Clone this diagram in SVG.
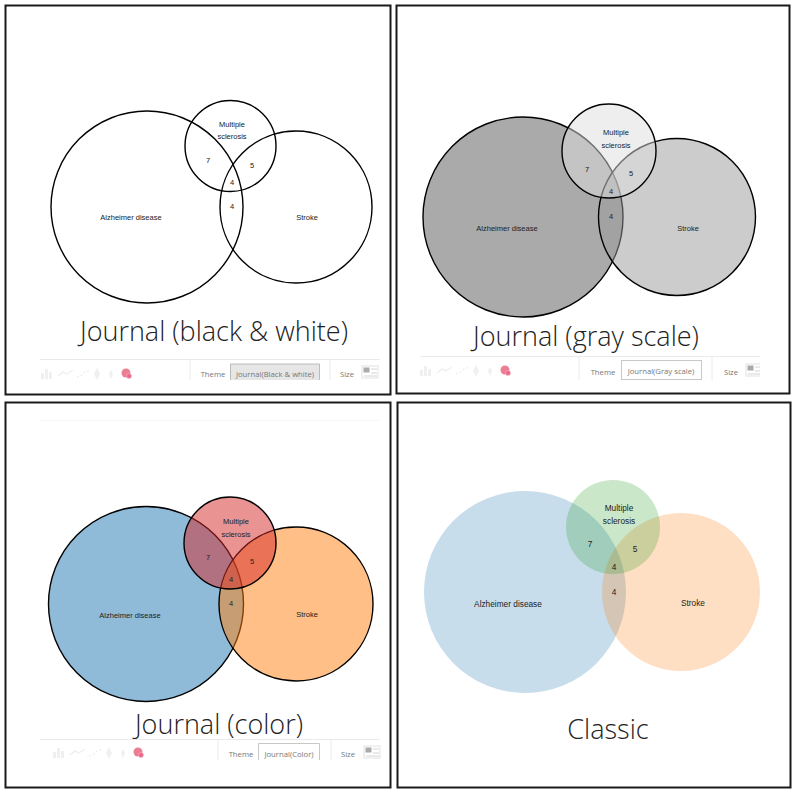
<svg xmlns="http://www.w3.org/2000/svg" width="800" height="800" viewBox="0 0 800 800">
<style>
.panel{fill:#fff;stroke:#1a1a1a;stroke-width:2}
.j{stroke:#000;stroke-width:1.4}
.none{fill:none}
.t{font-family:"Liberation Sans",Arial,sans-serif;font-size:7.500px;fill:#222;text-anchor:middle}
.t2{font-size:8.300px}
.title{font-family:"Open Sans","Noto Sans",sans-serif;font-weight:300;font-size:27px;fill:#222;text-anchor:middle}
.tb{font-family:"Open Sans","Noto Sans",sans-serif;font-size:7.700px;fill:#777;text-anchor:middle}
.rule{stroke:#eaeaea;stroke-width:1;fill:none}
.box{fill:#fff;stroke:#c8c8c8;stroke-width:1}
.ic{fill:#f0f0f0}
.ball{fill:#ec7e94}
.sz{fill:#aaa}
</style>
<defs>
<clipPath id="c4"><rect x="398" y="403" width="362" height="384"/></clipPath>
<clipPath id="c2"><rect x="398" y="350" width="362" height="40"/></clipPath>
<g id="bar-icons">
<path class="ic" d="M0 6h3v6H0zM4 2h3v10H4zM8 5h3v7H8z"/>
<path d="M17 9l5-4 4 2 6-4" fill="none" stroke="#f0f0f0" stroke-width="1.5"/>
<path d="M36 10l5-2 3-3 6-2" fill="none" stroke="#f0f0f0" stroke-width="1.500" stroke-dasharray="2 2"/>
<path class="ic" d="M56 1l3 6-3 6-3-6z"/>
<path class="ic" d="M70 3l2 4-2 5-2-5z"/>
<circle class="ball" cx="85" cy="6" r="4.500"/>
<circle cx="88" cy="9" r="2.500" fill="#e8688a" stroke="#f6b8c6" stroke-width=".6"/>
</g>
<g id="size-icon">
<rect x="0" y="0" width="16" height="12" fill="#fff" stroke="#e2e2e2"/>
<rect class="sz" x="1.500" y="1.500" width="6" height="5"/>
<path d="M9 3h6M9 7h6M2 10h13" stroke="#d4d4d4" stroke-width="1"/>
</g>
</defs>
<rect width="800" height="800" fill="#fff"/>

<g id="panel-bw">
<rect class="panel" x="5.500" y="5.500" width="385" height="389"/>
<g id="bw-circles">
<circle class="j none" cx="147" cy="207" r="96"/>
<circle class="j none" cx="230.500" cy="146" r="45.500"/>
<circle class="j none" cx="296" cy="207" r="76"/>
</g>
<text class="t" x="131" y="220">Alzheimer disease</text>
<text class="t" x="307" y="220">Stroke</text>
<text class="t" x="232" y="127">Multiple</text>
<text class="t" x="232" y="139">sclerosis</text>
<text class="t" x="208" y="163">7</text>
<text class="t" x="252" y="168">5</text>
<text class="t" x="232" y="185">4</text>
<text class="t" x="232" y="209">4</text>
<text class="title" x="214" y="341">Journal (black &amp; white)</text>
<path class="rule" d="M40 359.500H380M190 360v20M330 360v20"/>
<use href="#bar-icons" x="41" y="367"/>
<text class="tb" x="213" y="377">Theme</text>
<path d="M230.500 380V364H319.500V380z" fill="#e6e6e6"/>
<path d="M230.500 380V364H319.500V380" fill="none" stroke="#bbb"/>
<text class="tb" x="275" y="377">Journal(Black &amp; white)</text>
<text class="tb" x="347" y="377">Size</text>
<use href="#size-icon" x="362" y="366"/>
</g>

<g id="panel-gray">
<rect class="panel" x="396.500" y="5.500" width="393" height="388"/>
<g id="gray-circles">
<circle class="j" cx="523" cy="217" r="100" fill="#555" fill-opacity=".5"/>
<circle class="j" cx="677" cy="217" r="78.500" fill="#999" fill-opacity=".5"/>
<circle class="j" cx="609" cy="151" r="47" fill="#ddd" fill-opacity=".5"/>
</g>
<text class="t" x="507" y="231">Alzheimer disease</text>
<text class="t" x="688" y="231">Stroke</text>
<text class="t" x="616" y="135">Multiple</text>
<text class="t" x="616" y="148">sclerosis</text>
<text class="t" x="587" y="172">7</text>
<text class="t" x="631" y="176">5</text>
<text class="t" x="611" y="194">4</text>
<text class="t" x="611" y="219">4</text>
<text class="title" x="586" y="346">Journal (gray scale)</text>
<path class="rule" d="M420 356.500H760M579 357v23M712 357v23"/>
<use href="#bar-icons" x="420" y="364"/>
<text class="tb" x="603" y="375">Theme</text>
<rect class="box" x="621.500" y="360.500" width="80" height="19"/>
<text class="tb" x="661" y="374">Journal(Gray scale)</text>
<text class="tb" x="731" y="375">Size</text>
<g clip-path="url(#c2)"><use href="#size-icon" x="746" y="364"/></g>
</g>

<g id="panel-color">
<rect class="panel" x="5.500" y="402.500" width="385" height="385"/>
<path class="rule" d="M40 420.500H380" stroke-opacity=".4"/>
<g id="color-circles">
<circle class="j" cx="146" cy="604" r="97.500" fill="#1f77b4" fill-opacity=".5"/>
<circle class="j" cx="296" cy="604" r="77" fill="#ff7f0e" fill-opacity=".5"/>
<circle class="j" cx="230" cy="543" r="46" fill="#d62728" fill-opacity=".5"/>
</g>
<text class="t" x="130" y="618">Alzheimer disease</text>
<text class="t" x="307" y="617">Stroke</text>
<text class="t" x="236" y="524">Multiple</text>
<text class="t" x="236" y="537">sclerosis</text>
<text class="t" x="208" y="560">7</text>
<text class="t" x="252" y="564">5</text>
<text class="t" x="231" y="582">4</text>
<text class="t" x="231" y="606">4</text>
<text class="title" x="219" y="734">Journal (color)</text>
<path class="rule" d="M40 739.500H380M218 740v20M331 740v20"/>
<use href="#bar-icons" x="53" y="746"/>
<text class="tb" x="241" y="757">Theme</text>
<path d="M258.500 760V743.500H319.500V760" fill="#fff" stroke="#c8c8c8"/>
<text class="tb" x="289" y="757">Journal(Color)</text>
<text class="tb" x="348" y="757">Size</text>
<use href="#size-icon" x="364" y="746"/>
</g>

<g id="panel-classic">
<rect class="panel" x="397.500" y="402.500" width="393" height="385"/>
<g id="classic-circles" clip-path="url(#c4)">
<circle cx="525" cy="592" r="101" fill="#1f77b4" fill-opacity=".25"/>
<circle cx="681" cy="592" r="79" fill="#ff7f0e" fill-opacity=".25"/>
<circle cx="613" cy="527" r="47" fill="#2ca02c" fill-opacity=".25"/>
</g>
<text class="t t2" x="508" y="607">Alzheimer disease</text>
<text class="t t2" x="693" y="606">Stroke</text>
<text class="t t2" x="619" y="511">Multiple</text>
<text class="t t2" x="619" y="524">sclerosis</text>
<text class="t t2" x="590" y="547">7</text>
<text class="t t2" x="635" y="552">5</text>
<text class="t t2" x="614" y="570">4</text>
<text class="t t2" x="614" y="595">4</text>
<text class="title" x="608" y="739">Classic</text>
</g>
</svg>
